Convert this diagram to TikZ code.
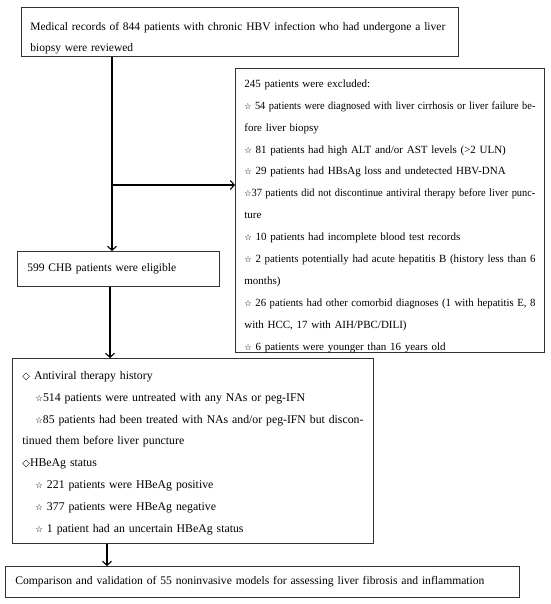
\documentclass[tikz,border=0pt]{standalone}
\usepackage{fontspec}
\usepackage{graphicx}
\setmainfont{Liberation Serif}
\newfontfamily\symfont{DejaVu Sans}
\usetikzlibrary{arrows.meta}
\newcommand{\wst}{{\symfont\fontsize{8.5pt}{9pt}\selectfont ☆}}
\newcommand{\wdm}{{\symfont\fontsize{10pt}{9pt}\selectfont ◇}}
\newsavebox\jlbox
\newcommand{\jl}[1]{\sbox\jlbox{#1}\ifdim\wd\jlbox>\hsize
  \resizebox{\hsize}{\height}{\usebox\jlbox}\else\makebox[\hsize][s]{#1}\fi}
\begin{document}
\begin{tikzpicture}[x=1pt,y=-1pt,
  box/.style={draw=black!80, line width=0.8pt, anchor=north west, inner ysep=0pt},
  arr/.style={line width=1.1pt, -{Straight Barb[length=4pt,width=9pt]}}]
\useasboundingbox (0,0) rectangle (550,604);
\hyphenpenalty=10000 \exhyphenpenalty=10000
\node[box, inner xsep=9pt, minimum width=437pt, minimum height=49pt, text width=419pt, align=left,
  font=\fontsize{11.5pt}{21pt}\selectfont] (b1) at (21,7)
  {\rule{0pt}{23pt}Medical records of 844 patients with chronic HBV infection who had undergone a liver\\
   biopsy were reviewed\rule[-5pt]{0pt}{5pt}};
\node[box, inner xsep=9pt, minimum width=309pt, minimum height=284pt, text width=291pt, align=left,
  font=\fontsize{11pt}{21.9pt}\selectfont] (b2) at (235,68)
  {\rule{0pt}{19pt}245 patients were excluded:\\
  \jl{\wst\ 54 patients were diagnosed with liver cirrhosis or liver failure be-}\\
  fore liver biopsy\\
  \wst\ 81 patients had high ALT and/or AST levels (>2 ULN)\\
  \wst\ 29 patients had HBsAg loss and undetected HBV-DNA\\
  \jl{\wst 37 patients did not discontinue antiviral therapy before liver punc-}\\
  ture\\
  \wst\ 10 patients had incomplete blood test records\\
  \jl{\wst\ 2 patients potentially had acute hepatitis B (history less than 6}\\
  months)\\
  \jl{\wst\ 26 patients had other comorbid diagnoses (1 with hepatitis E, 8}\\
  with HCC, 17 with AIH/PBC/DILI)\\
  \wst\ 6 patients were younger than 16 years old\rule[-2.2pt]{0pt}{2.2pt}};
\node[box, inner xsep=10pt, minimum width=202pt, minimum height=35pt, text width=182pt, align=left,
  font=\fontsize{11.5pt}{13pt}\selectfont] (b3) at (17,251)
  {599 CHB patients were eligible};
\node[box, inner xsep=10pt, minimum width=361pt, minimum height=185pt, text width=341pt, align=left,
  font=\fontsize{11.8pt}{21.8pt}\selectfont] (b4) at (12,358)
  {\rule{0pt}{21pt}\wdm\ Antiviral therapy history\\
  \hspace*{13pt}\wst 514 patients were untreated with any NAs or peg-IFN\\
  \jl{\hspace*{13pt}\wst 85 patients had been treated with NAs and/or peg-IFN but discon-}\\
  tinued them before liver puncture\\
  \wdm HBeAg status\\
  \hspace*{13pt}\wst\ 221 patients were HBeAg positive\\
  \hspace*{13pt}\wst\ 377 patients were HBeAg negative\\
  \hspace*{13pt}\wst\ 1 patient had an uncertain HBeAg status\rule[-11.4pt]{0pt}{11.4pt}};
\node[box, inner xsep=10pt, minimum width=514pt, minimum height=31pt, text width=494pt, align=left,
  font=\fontsize{11.6pt}{13pt}\selectfont] (b5) at (5,566)
  {Comparison and validation of 55 noninvasive models for assessing liver fibrosis and inflammation};
\coordinate (c1) at (112,185);
\coordinate (c2) at (110,0);
\coordinate (c3) at (107,0);
\draw[arr] (b1.south -| c1) -- (b3.north -| c1);
\draw[arr] (c1) -- (b2.west |- c1);
\draw[arr] (b3.south -| c2) -- (b4.north -| c2);
\draw[arr] (b4.south -| c3) -- (b5.north -| c3);
\end{tikzpicture}
\end{document}
